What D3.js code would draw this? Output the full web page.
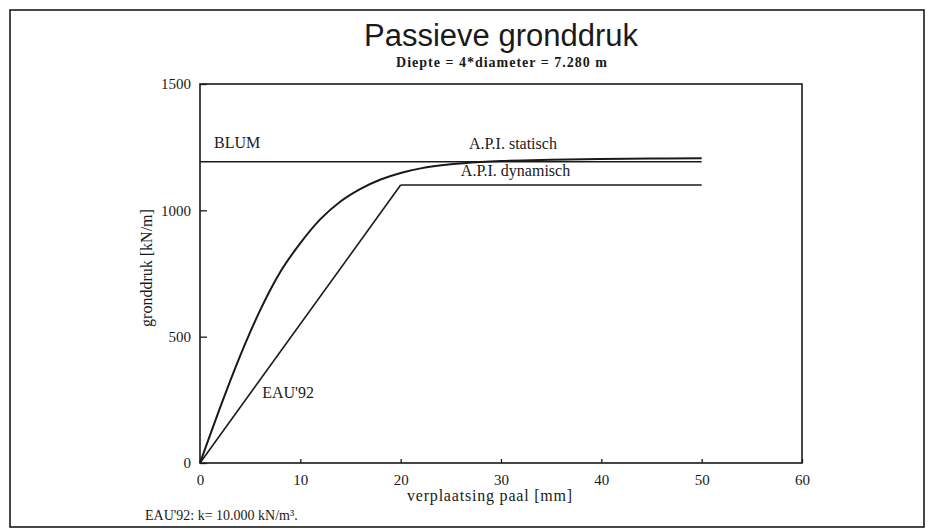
<!DOCTYPE html>
<html>
<head>
<meta charset="utf-8">
<script src="https://cdn.jsdelivr.net/npm/d3@7"></script>
<style>
  html, body { margin: 0; padding: 0; background: #fff; }
  svg { display: block; }
</style>
</head>
<body>
<svg id="chart" width="930" height="530"></svg>
<script>
// Displacement of the pile [mm] and passive earth pressure [kN/m]
const xTicks = [0, 10, 20, 30, 40, 50, 60];
const yTicks = [0, 500, 1000, 1500];

const blumX = [0, 50];
const blumY = [1192, 1192];

const apiStatischX = [0, 1, 2, 3, 4, 5, 6, 7, 8, 10, 12, 14, 16, 18, 20, 22, 25, 28, 30, 35, 40, 45, 50];
const apiStatischY = [0, 110, 219, 324, 424, 518, 605, 685, 756, 870, 965, 1035, 1085, 1122, 1148, 1166, 1182, 1191, 1195, 1200, 1203, 1205, 1206];

const apiDynamischX = [20, 50];
const apiDynamischY = [1100, 1100];

const eauX = [0, 20];
const eauY = [0, 1100];

const svg = d3.select("#chart");
const W = 930, H = 530;
const margin = { left: 200, right: 128, top: 84, bottom: 67 };
const iw = W - margin.left - margin.right;
const ih = H - margin.top - margin.bottom;

const serif = "'Liberation Serif', 'DejaVu Serif', serif";
const sans = "'Liberation Sans', Arial, sans-serif";
const ink = "#1a1a1a";

// outer frame
svg.append("rect")
  .attr("x", 10).attr("y", 10)
  .attr("width", 914).attr("height", 517)
  .attr("fill", "none").attr("stroke", ink).attr("stroke-width", 1.6);

// titles
svg.append("text")
  .attr("x", 501).attr("y", 46)
  .attr("text-anchor", "middle")
  .attr("font-family", sans).attr("font-size", 31)
  .attr("fill", ink)
  .text("Passieve gronddruk");

svg.append("text")
  .attr("x", 502).attr("y", 67)
  .attr("text-anchor", "middle")
  .attr("font-family", serif).attr("font-size", 14).attr("font-weight", "bold")
  .attr("letter-spacing", 1)
  .attr("fill", ink)
  .text("Diepte = 4*diameter = 7.280 m");

const x = d3.scaleLinear().domain([0, 60]).range([0, iw]);
const y = d3.scaleLinear().domain([0, 1500]).range([ih, 0]);

const g = svg.append("g").attr("transform", `translate(${margin.left},${margin.top})`);

// axes with inward ticks
const xAxis = g.append("g")
  .attr("transform", `translate(0,${ih})`)
  .call(d3.axisBottom(x).tickValues(xTicks).tickFormat(d3.format("d"))
    .tickSizeInner(-4).tickSizeOuter(0).tickPadding(11));

const yAxis = g.append("g")
  .call(d3.axisLeft(y).tickValues(yTicks).tickFormat(d3.format("d"))
    .tickSizeInner(-7).tickSizeOuter(0).tickPadding(9));

[xAxis, yAxis].forEach(a => {
  a.selectAll("path.domain").remove();
  a.selectAll(".tick line").attr("stroke", ink).attr("stroke-width", 1.3);
  a.selectAll(".tick text")
    .attr("font-family", serif).attr("font-size", 15).attr("fill", ink);
});

// plot frame
g.append("rect")
  .attr("x", 0).attr("y", 0).attr("width", iw).attr("height", ih)
  .attr("fill", "none").attr("stroke", ink).attr("stroke-width", 1.6);

// axis titles
svg.append("text")
  .attr("x", 490).attr("y", 501)
  .attr("text-anchor", "middle")
  .attr("font-family", serif).attr("font-size", 16).attr("letter-spacing", 0.8).attr("fill", ink)
  .text("verplaatsing paal [mm]");

svg.append("text")
  .attr("transform", `translate(152,268) rotate(-90)`)
  .attr("text-anchor", "middle")
  .attr("font-family", serif).attr("font-size", 16).attr("fill", ink)
  .text("gronddruk [kN/m]");

svg.append("text")
  .attr("x", 145).attr("y", 520)
  .attr("font-family", serif).attr("font-size", 14).attr("fill", ink)
  .text("EAU'92: k= 10.000 kN/m³.");

// curves
const line = d3.line().x(d => x(d[0])).y(d => y(d[1]));
const series = [
  { xs: blumX, ys: blumY, w: 1.6 },
  { xs: apiStatischX, ys: apiStatischY, w: 2, curve: d3.curveMonotoneX },
  { xs: apiDynamischX, ys: apiDynamischY, w: 1.6 },
  { xs: eauX, ys: eauY, w: 1.6 }
];
series.forEach(s => {
  const pts = s.xs.map((v, i) => [v, s.ys[i]]);
  g.append("path")
    .attr("d", line.curve(s.curve || d3.curveLinear)(pts))
    .attr("fill", "none").attr("stroke", ink).attr("stroke-width", s.w);
});

// curve labels
const labels = [
  { t: "BLUM", xv: 1.4, yv: 1247 },
  { t: "A.P.I. statisch", xv: 26.8, yv: 1243 },
  { t: "A.P.I. dynamisch", xv: 26.0, yv: 1136 },
  { t: "EAU'92", xv: 6.2, yv: 257 }
];
labels.forEach(l => {
  g.append("text")
    .attr("x", x(l.xv)).attr("y", y(l.yv))
    .attr("font-family", serif).attr("font-size", 16).attr("fill", ink)
    .text(l.t);
});
</script>
</body>
</html>
